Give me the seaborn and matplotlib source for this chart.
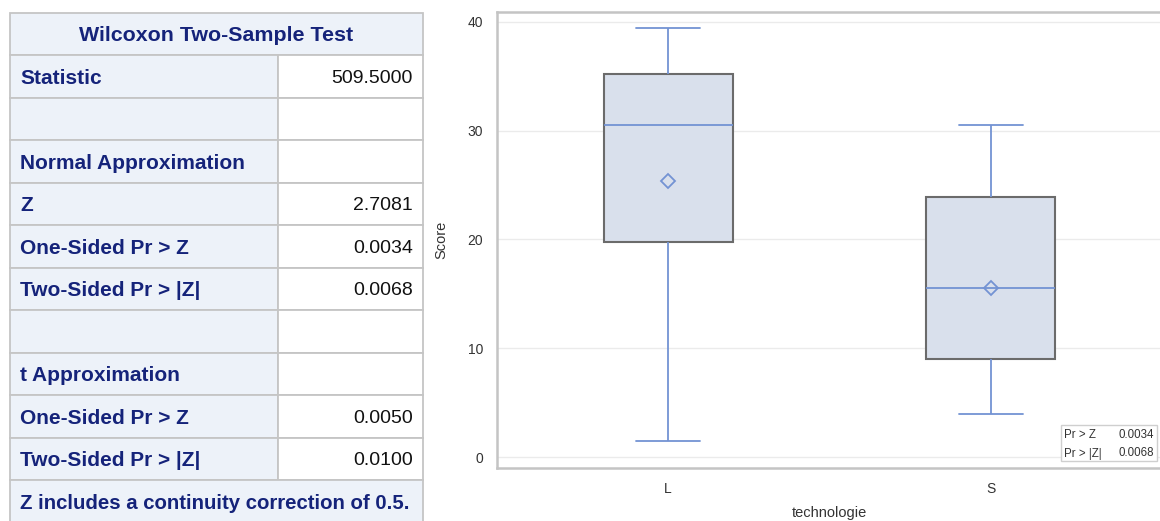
import matplotlib
matplotlib.use("Agg")
import matplotlib.pyplot as plt
import seaborn as sns
import pandas as pd
import numpy as np
from matplotlib.patches import Rectangle

# box plot summaries
groups = ["L", "S"]
whisker_low = [1.5, 4.0]
q1 = [19.8, 9.0]
medians = [30.5, 15.5]
q3 = [35.2, 23.9]
whisker_high = [39.4, 30.5]
means = [25.4, 15.5]
y_ticks = [0, 10, 20, 30, 40]

# Wilcoxon table
table_title = "Wilcoxon Two-Sample Test"
row_labels = ["Statistic", "", "Normal Approximation", "Z", "One-Sided Pr > Z",
              "Two-Sided Pr > |Z|", "", "t Approximation", "One-Sided Pr > Z",
              "Two-Sided Pr > |Z|"]
row_values = ["509.5000", "", "", "2.7081", "0.0034", "0.0068", "", "",
              "0.0050", "0.0100"]
footnote = "Z includes a continuity correction of 0.5."

inset_labels = ["Pr > Z", "Pr > |Z|"]
inset_values = ["0.0034", "0.0068"]

sns.set_style("white")
plt.rcParams["font.family"] = ["Liberation Sans", "DejaVu Sans"]

# five numbers per group, so the quartiles come out as in the chart
rows = []
for g, lo, a, m, b, hi in zip(groups, whisker_low, q1, medians, q3, whisker_high):
    for v in (lo, a, m, b, hi):
        rows.append({"technologie": g, "Score": v})
df = pd.DataFrame(rows)

W, H = 1160, 521
fig = plt.figure(figsize=(W / 100, H / 100), dpi=100)
ax = fig.add_axes([497 / W, 1 - 468 / H, (1162 - 497) / W, (468 - 12) / H])

blue = "#7393D3"
grey_line = "#C4C4C4"
sns.boxplot(data=df, x="technologie", y="Score", order=groups, width=0.4,
            color="#D9E0EC", saturation=1, linecolor="#6B6B6B", linewidth=1.3,
            showfliers=False,
            boxprops={"linewidth": 1.5},
            whiskerprops={"color": blue},
            capprops={"color": blue},
            medianprops={"color": blue},
            ax=ax)
ax.plot(np.arange(len(groups)), means, linestyle="none", marker="D",
        markersize=7, markerfacecolor="none", markeredgecolor=blue,
        markeredgewidth=1.3, zorder=5)

ax.set_xlim(-0.53, 1.53)
ax.set_ylim(-1.0, 40.9)
ax.set_yticks(y_ticks)
ax.yaxis.grid(True, color="#EBEBEB", linewidth=1)
ax.set_axisbelow(True)
for side in ["left", "bottom", "top"]:
    ax.spines[side].set_color(grey_line)
    ax.spines[side].set_linewidth(1.8)
ax.spines["right"].set_visible(False)
ax.tick_params(axis="both", length=5, width=1.2, color=grey_line, labelsize=10,
               labelcolor="#333333", pad=5)
ax.set_xlabel("technologie", fontsize=10.5, color="#333333", labelpad=7)
ax.set_ylabel("Score", fontsize=10.5, color="#333333", labelpad=14)

# overlay in pixel coordinates for the table and the inset
tab = fig.add_axes([0, 0, 1, 1], facecolor="none")
tab.set_xlim(0, W)
tab.set_ylim(H, 0)
tab.axis("off")

left, mid, right = 10, 278, 423
top, head_bot, row_h = 12.5, 55, 42.5
edge = "#C5C5C5"
cell_bg = "#EDF2F9"
navy = "#15237A"

tab.add_patch(Rectangle((left, top), right - left, head_bot - top,
                        facecolor=cell_bg, edgecolor=edge, lw=1.3))
tab.text((left + right) / 2, (top + head_bot) / 2, table_title, ha="center",
         va="center_baseline", fontsize=15.4, fontweight="bold", color=navy)
for i, (lab, val) in enumerate(zip(row_labels, row_values)):
    y0 = head_bot + i * row_h
    tab.add_patch(Rectangle((left, y0), mid - left, row_h,
                            facecolor=cell_bg, edgecolor=edge, lw=1.3))
    tab.add_patch(Rectangle((mid, y0), right - mid, row_h,
                            facecolor="white", edgecolor=edge, lw=1.3))
    yc = y0 + row_h / 2
    if lab:
        tab.text(left + 10, yc, lab, ha="left", va="center_baseline",
                 fontsize=15, fontweight="bold", color=navy)
    if val:
        tab.text(right - 10, yc, val, ha="right", va="center_baseline",
                 fontsize=14, color="#111111")
y0 = head_bot + len(row_labels) * row_h
tab.add_patch(Rectangle((left, y0), right - left, row_h,
                        facecolor=cell_bg, edgecolor=edge, lw=1.3, clip_on=False))
tab.text(left + 10, y0 + row_h / 2, footnote, ha="left", va="center_baseline",
         fontsize=14.7, fontweight="bold", color=navy)

# inset with the p-values
tab.add_patch(Rectangle((1061, 425), 96, 36, facecolor="white",
                        edgecolor="#CFCFCF", lw=1))
for k, (lab, val) in enumerate(zip(inset_labels, inset_values)):
    yc = 434 + k * 18
    tab.text(1064, yc, lab, ha="left", va="center_baseline", fontsize=8.3,
             color="#333333")
    tab.text(1154, yc, val, ha="right", va="center_baseline", fontsize=8.3,
             color="#333333")

fig.savefig("out.png", dpi=100)
